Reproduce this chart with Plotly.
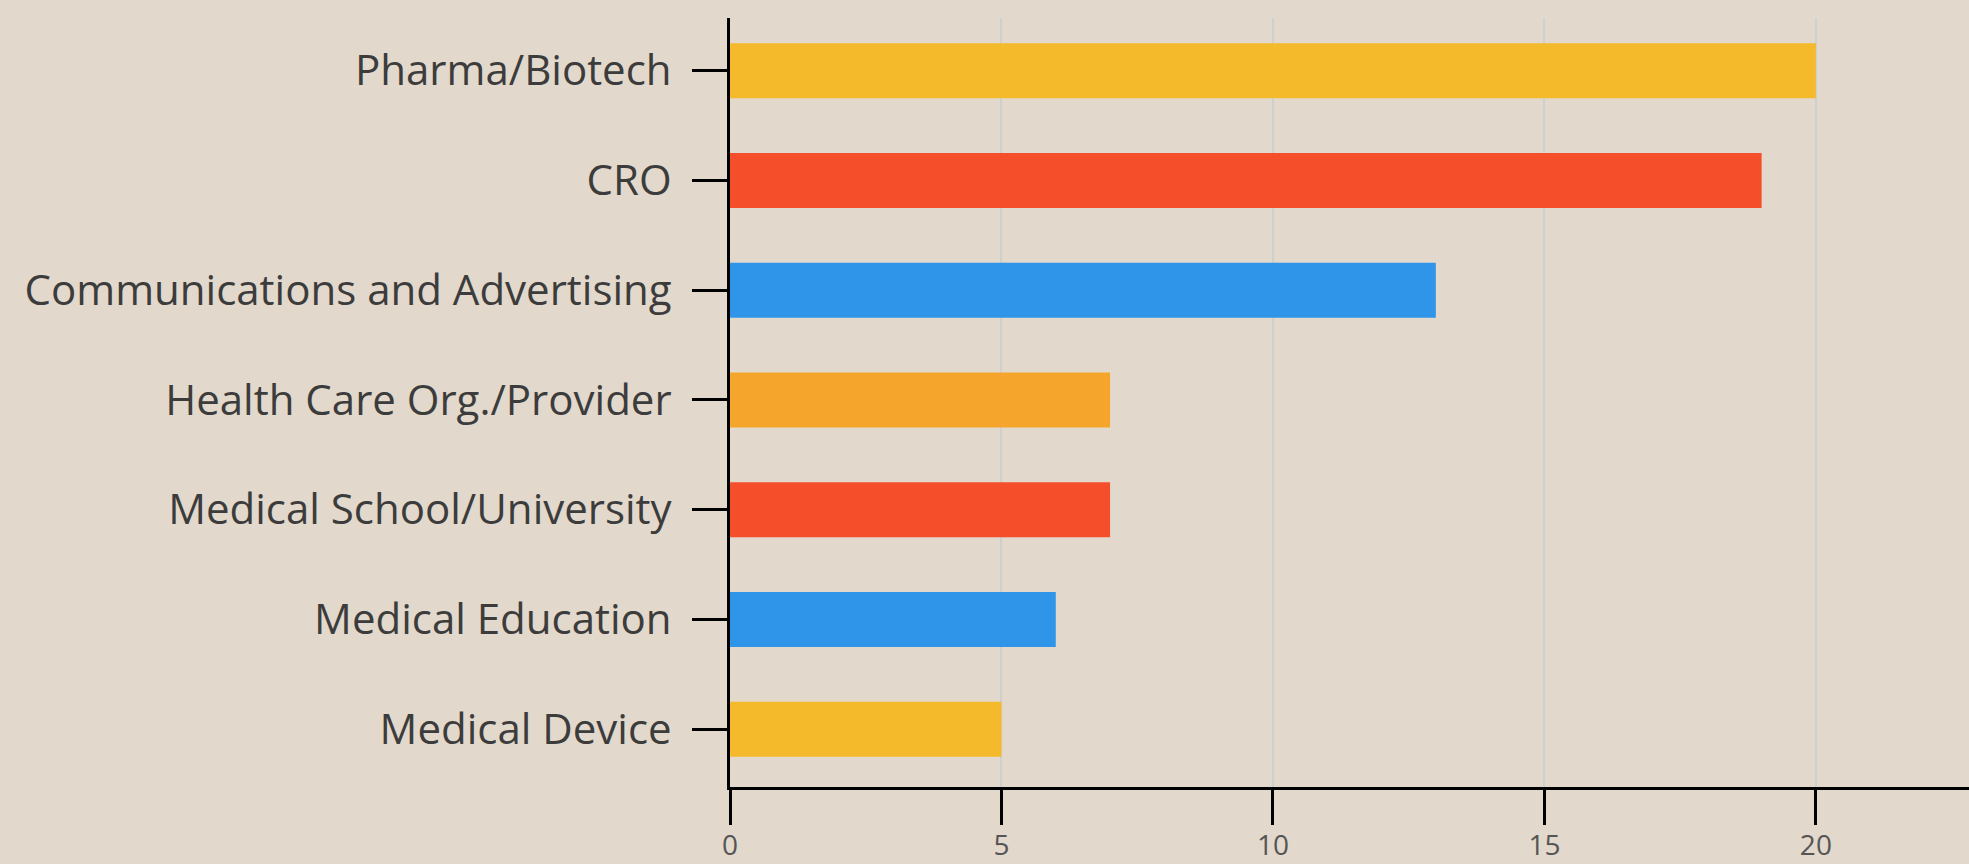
import plotly.graph_objects as go

categories = ["Medical Device", "Medical Education", "Medical School/University",
              "Health Care Org./Provider", "Communications and Advertising", "CRO", "Pharma/Biotech"]
values = [5, 6, 7, 7, 13, 19, 20]
colors = ["#F5BA2B", "#2E95E9", "#F44E2A", "#F5A52B", "#2E95E9", "#F44E2A", "#F5BA2B"]
x_ticks = [0, 5, 10, 15, 20]

fig = go.Figure(go.Bar(
    x=values, y=categories, orientation="h",
    marker=dict(color=colors, line=dict(width=0)),
    width=0.5,
))

fig.update_layout(
    width=1969, height=864,
    paper_bgcolor="#E2D8CB", plot_bgcolor="#E2D8CB",
    margin=dict(l=730, r=0, t=18, b=77, autoexpand=False),
    font=dict(family="Open Sans", color="#3C3C3C"),
    showlegend=False,
    bargap=0.5,
)
fig.update_yaxes(
    type="category", range=[-0.526, 6.48],
    showline=True, linecolor="#000", linewidth=3,
    ticks="outside", ticklen=35, tickwidth=3, tickcolor="#000",
    tickfont=dict(size=42, color="#3C3C3C"),
    ticklabelstandoff=12,
    showgrid=False, zeroline=False, automargin=False,
)
fig.update_xaxes(
    range=[0, 22.82], tickvals=x_ticks,
    showline=True, linecolor="#000", linewidth=3,
    ticks="outside", ticklen=35, tickwidth=3, tickcolor="#000",
    tickfont=dict(size=28, color="#555"),
    ticklabelstandoff=-4,
    showgrid=True, gridcolor="#CFCFCF", gridwidth=2,
    zeroline=False, automargin=False,
)

fig.write_html(
    "out.html",
    config={"displayModeBar": False},
    post_script="document.body.style.margin='0';document.body.style.background='#E2D8CB';",
)
